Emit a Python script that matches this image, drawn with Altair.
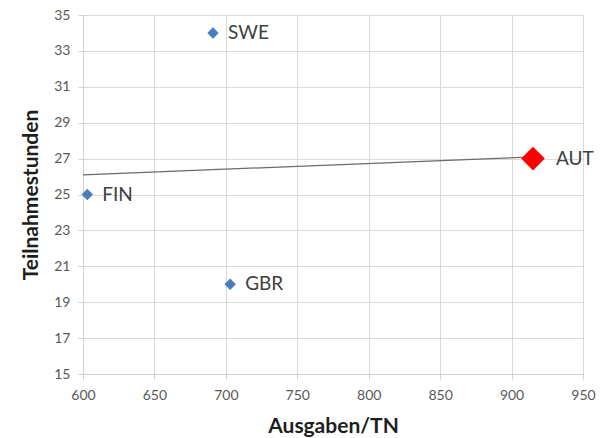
import altair as alt
import pandas as pd

# Country values: spending per participant vs. participation hours
countries = ["SWE", "FIN", "GBR", "AUT"]
spending = [691, 603, 703, 915]
hours = [34, 25, 20, 27]
highlight = [False, False, False, True]

x_ticks = [600, 650, 700, 750, 800, 850, 900, 950]
y_ticks = [15, 17, 19, 21, 23, 25, 27, 29, 31, 33, 35]

df = pd.DataFrame({
    "Land": countries,
    "Ausgaben": spending,
    "Stunden": hours,
    "hl": highlight,
})

FONT = "Lato"

x_scale = alt.Scale(domain=[600, 950], nice=False, zero=False)
y_scale = alt.Scale(domain=[15, 35], nice=False, zero=False)

x_axis = alt.Axis(
    title="Ausgaben/TN", values=x_ticks, tickCount=len(x_ticks),
    titleFont=FONT, titleFontSize=21, titleFontWeight="bold", titleColor="#1e1e1e",
    titlePadding=13,
    labelFont=FONT, labelFontSize=14, labelColor="#595959", labelPadding=9,
    labelFlush=False, labelOverlap=False,
    gridColor="#d9d9d9", domainColor="#d0d0d0", tickColor="#d0d0d0", tickSize=5,
)
y_axis = alt.Axis(
    title="Teilnahmestunden", values=y_ticks, tickCount=len(y_ticks),
    titleFont=FONT, titleFontSize=21, titleFontWeight="bold", titleColor="#1e1e1e",
    titlePadding=12,
    labelFont=FONT, labelFontSize=14, labelColor="#595959", labelPadding=8,
    labelFlush=False, labelOverlap=False,
    gridColor="#d9d9d9", domainColor="#d0d0d0", tickColor="#d0d0d0", tickSize=5,
)

X = alt.X("Ausgaben:Q", scale=x_scale, axis=x_axis)
Y = alt.Y("Stunden:Q", scale=y_scale, axis=y_axis)

base = alt.Chart(df)

trend = base.transform_regression(
    "Ausgaben", "Stunden", extent=[600, 915]
).mark_line(color="#6b6b6b", strokeWidth=1.2).encode(x=X, y=Y)

others = base.transform_filter("!datum.hl").mark_point(
    shape="diamond", filled=True, size=130, color="#4a7ebb", opacity=1
).encode(x=X, y=Y)

aut = base.transform_filter("datum.hl").mark_point(
    shape="diamond", filled=True, size=560, color="#ff0000", opacity=1
).encode(x=X, y=Y)

labels = base.transform_filter("!datum.hl").mark_text(
    align="left", baseline="middle", dx=15, font=FONT, fontSize=19, color="#404040"
).encode(x=X, y=Y, text="Land:N")

aut_label = base.transform_filter("datum.hl").mark_text(
    align="left", baseline="middle", dx=23, font=FONT, fontSize=19, color="#404040"
).encode(x=X, y=Y, text="Land:N")

chart = alt.layer(trend, others, aut, labels, aut_label).properties(
    width=500,
    height=359,
    autosize=alt.AutoSizeParams(type="none"),
    padding={"left": 83, "top": 15, "right": 30, "bottom": 64},
).configure_view(stroke=None).configure(background="white")

chart.save("out.html", embed_options={"renderer": "svg", "actions": False})
